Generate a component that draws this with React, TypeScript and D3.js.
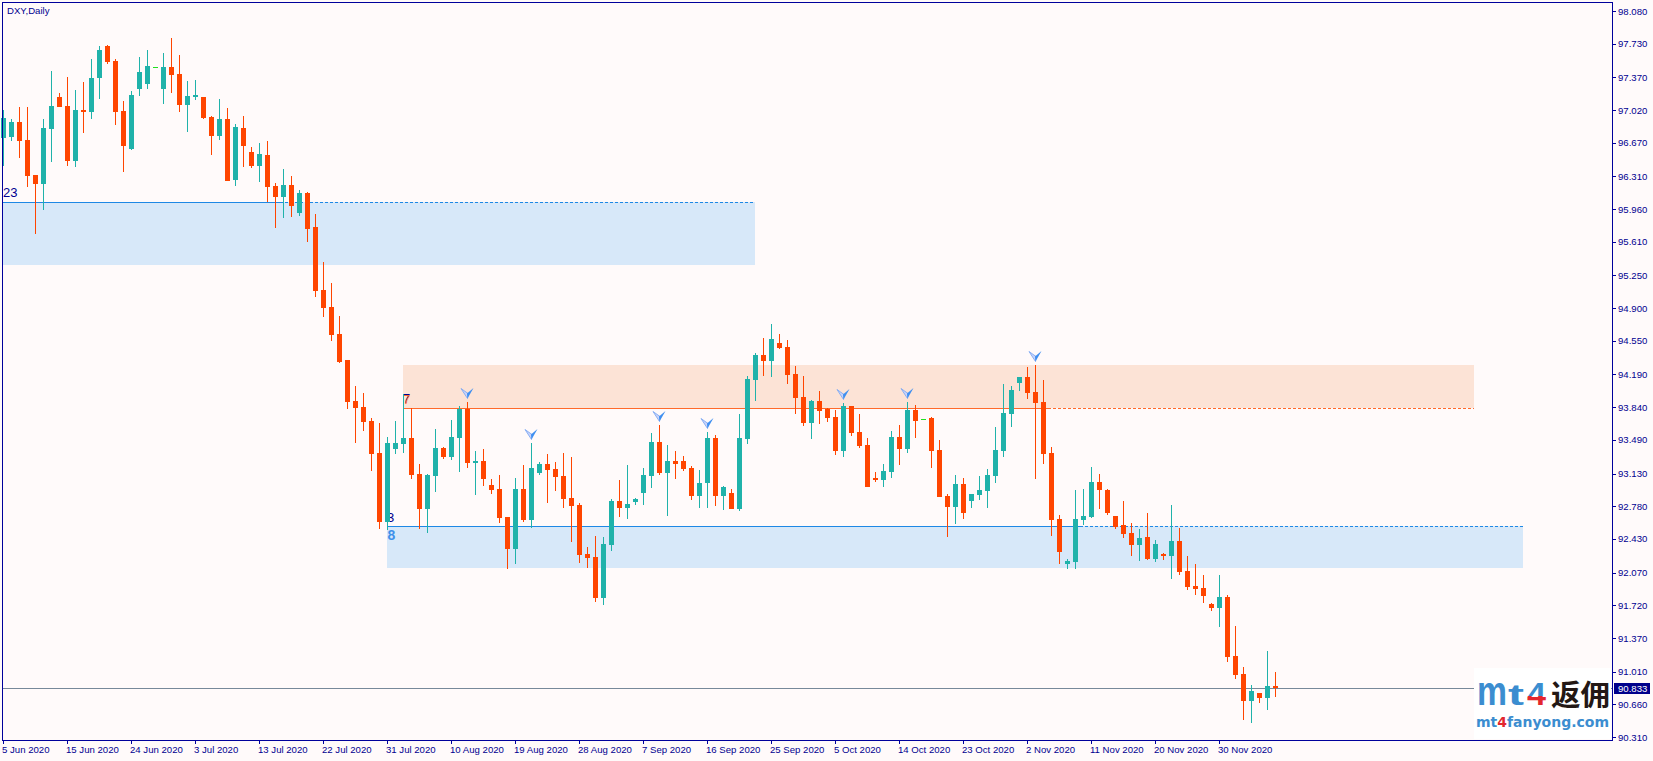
import { useEffect, useRef } from "react";
import * as d3 from "d3";

const width = 1653;
const height = 761;

const opens = [
  96.721,96.732,96.892,96.700,96.325,96.229,96.817,97.160,97.064,96.475,
  97.021,96.999,97.363,97.706,97.545,97.010,96.603,97.246,97.299,97.481,
  97.246,97.481,97.406,97.074,97.160,97.160,96.946,96.743,96.924,96.272,
  96.828,96.571,96.421,96.539,96.207,96.090,96.218,95.918,96.133,95.769,
  95.094,94.912,94.624,94.345,93.906,93.842,93.693,93.350,92.612,93.393,
  93.446,93.511,93.125,92.751,93.104,93.404,93.307,93.511,93.821,93.243,
  93.264,93.008,92.965,92.665,92.323,92.965,92.633,93.136,93.232,93.179,
  93.104,92.868,92.793,92.269,92.237,91.798,92.365,92.836,92.761,92.826,
  92.922,93.104,93.468,93.136,93.264,93.264,93.189,92.890,93.029,93.511,
  92.890,92.922,92.751,93.500,94.131,94.399,94.335,94.527,94.484,94.195,
  93.949,93.671,93.906,93.821,93.735,93.371,93.853,93.575,93.436,93.082,
  93.061,93.147,93.521,93.393,93.810,93.714,93.725,93.382,92.890,92.772,
  93.018,92.836,92.901,92.943,93.104,93.371,93.767,94.099,94.163,94.003,
  93.896,93.350,92.644,92.162,92.183,92.633,92.665,93.040,92.954,92.676,
  92.580,92.494,92.365,92.451,92.216,92.269,92.248,92.408,92.087,91.927,
  91.905,91.734,91.691,91.809,91.177,90.985,90.696,90.782,90.728,90.856,
];

const highs = [
  97.021,96.924,97.053,97.053,96.325,96.924,97.438,97.203,97.374,97.235,
  97.320,97.567,97.706,97.716,97.567,97.117,97.224,97.588,97.663,97.481,
  97.631,97.791,97.609,97.331,97.342,97.160,96.957,97.139,97.042,96.871,
  96.957,96.625,96.668,96.689,96.240,96.389,96.314,96.165,96.143,95.908,
  95.394,95.169,94.816,94.345,94.067,93.992,93.725,93.671,93.521,93.693,
  93.981,93.832,93.232,93.125,93.607,93.414,93.703,93.853,93.896,93.371,
  93.393,93.072,93.115,92.665,93.082,93.222,93.457,93.254,93.339,93.254,
  93.350,93.307,92.815,92.344,92.462,92.451,92.858,93.061,93.222,92.868,
  93.189,93.564,93.650,93.436,93.371,93.318,93.211,93.168,93.575,93.543,
  92.997,92.965,93.767,94.174,94.420,94.581,94.731,94.624,94.559,94.281,
  94.174,93.917,94.014,93.832,93.810,93.885,93.853,93.767,93.511,93.147,
  93.232,93.586,93.650,93.896,93.864,93.714,93.735,93.489,92.911,93.115,
  93.082,92.911,93.104,93.179,93.628,94.088,94.067,94.163,94.270,94.292,
  94.131,93.414,92.686,92.216,92.954,92.965,93.200,93.125,92.965,92.676,
  92.836,92.601,92.537,92.708,92.419,92.280,92.793,92.547,92.248,92.162,
  92.044,91.745,92.044,91.830,91.499,91.060,90.867,90.782,91.231,91.006,
];

const lows = [
  96.421,96.689,96.507,96.197,95.694,95.951,96.464,97.053,96.421,96.411,
  96.775,96.924,97.139,97.513,96.860,96.357,96.593,97.171,97.246,97.481,
  97.085,97.203,96.999,96.785,97.128,96.924,96.539,96.700,96.261,96.207,
  96.411,96.400,96.250,96.036,95.758,95.865,95.876,95.886,95.608,95.020,
  94.805,94.549,94.313,93.821,93.457,93.586,93.157,92.537,92.526,93.339,
  93.350,93.072,92.537,92.494,92.933,93.286,93.275,93.147,93.189,92.901,
  92.997,92.911,92.601,92.108,92.162,92.612,92.547,93.115,92.815,92.943,
  92.761,92.398,92.173,92.119,91.755,91.723,92.301,92.665,92.644,92.793,
  92.793,92.975,93.115,92.676,93.072,93.157,92.847,92.761,92.761,92.783,
  92.740,92.751,92.729,93.446,93.906,94.174,94.163,94.463,94.088,93.767,
  93.639,93.500,93.660,93.682,93.329,93.307,93.532,93.404,92.986,93.040,
  92.986,93.082,93.222,93.350,93.511,93.714,93.189,92.879,92.451,92.590,
  92.644,92.761,92.847,92.761,93.029,93.307,93.628,94.014,93.928,93.072,
  93.232,92.462,92.162,92.108,92.108,92.580,92.654,92.751,92.686,92.537,
  92.440,92.248,92.194,92.205,92.183,92.205,92.002,92.044,91.884,91.830,
  91.745,91.659,91.488,91.113,90.931,90.493,90.460,90.674,90.600,90.739,
];

const closes = [
  96.935,96.892,96.689,96.314,96.229,96.828,97.064,97.053,96.475,97.021,
  96.999,97.363,97.663,97.534,96.999,96.636,97.181,97.427,97.492,97.481,
  97.481,97.395,97.074,97.171,97.181,96.935,96.743,96.924,96.261,96.839,
  96.636,96.421,96.550,96.197,96.090,96.218,95.993,96.133,95.747,95.084,
  94.902,94.613,94.324,93.896,93.832,93.682,93.339,92.612,93.457,93.457,
  93.511,93.115,92.751,93.115,93.404,93.307,93.521,93.821,93.243,93.264,
  93.072,92.954,92.654,92.323,92.965,92.633,93.189,93.232,93.168,93.093,
  92.858,92.783,92.258,92.226,91.798,92.376,92.836,92.761,92.804,92.858,
  93.115,93.468,93.136,93.264,93.232,93.179,92.890,93.029,93.511,92.890,
  92.986,92.751,93.511,94.142,94.399,94.335,94.570,94.474,94.185,93.939,
  93.671,93.906,93.800,93.725,93.371,93.853,93.564,93.425,92.986,93.061,
  93.157,93.521,93.393,93.810,93.693,93.714,93.371,92.879,92.772,93.018,
  92.708,92.911,92.954,93.115,93.382,93.778,94.024,94.163,93.992,93.885,
  93.339,92.633,92.290,92.194,92.644,92.676,93.040,92.954,92.708,92.558,
  92.483,92.365,92.440,92.216,92.376,92.248,92.408,92.076,91.916,91.895,
  91.820,91.691,91.809,91.167,90.974,90.696,90.803,90.728,90.856,90.833,
];

const priceTicks = [
  98.08, 97.73, 97.37, 97.02, 96.67, 96.31, 95.96, 95.61, 95.25, 94.9, 94.55, 94.19,
  93.84, 93.49, 93.13, 92.78, 92.43, 92.07, 91.72, 91.37, 91.01, 90.66, 90.31,
];

const dateLabels = [
  "5 Jun 2020", "15 Jun 2020", "24 Jun 2020", "3 Jul 2020", "13 Jul 2020", "22 Jul 2020",
  "31 Jul 2020", "10 Aug 2020", "19 Aug 2020", "28 Aug 2020", "7 Sep 2020", "16 Sep 2020",
  "25 Sep 2020", "5 Oct 2020", "14 Oct 2020", "23 Oct 2020", "2 Nov 2020", "11 Nov 2020",
  "20 Nov 2020", "30 Nov 2020",
];
const dateBars = dateLabels.map((_, i) => i * 8);

// supply / demand zones: bar where they start, end, where the border turns dashed
const zoneTops = [96.036, 94.292, 92.569];
const zoneBottoms = [95.362, 93.832, 92.12];
const zoneStartBars = [-0.5, 49.94, 47.94];
const zoneEndBars = [93.98, 183.86, 189.9];
const zoneSplitBars = [34.5, 130.5, 134.5];
const zoneFills = ["#d7e8f9", "#fce3d6", "#d7e8f9"];
const zoneLines = ["#1e88e5", "#ff6a2b", "#1e88e5"];
const zoneBorderPrices = [96.036, 93.832, 92.569];

const arrowBars = [58, 66, 82, 88, 105, 113, 129];
const lastPrice = 90.833;

const axisBlue = "#00009c";
const bullColor = "#20b2aa";
const bearColor = "#ff4500";
const dojiColor = "#1fe01f";
const uiFont = "'Liberation Sans', Arial, sans-serif";
const fontSize = "9.6px";

export default function App() {
  const svgRef = useRef<SVGSVGElement>(null);

  useEffect(() => {
    if (!svgRef.current) return;
    const svg = d3.select(svgRef.current);
    svg.selectAll("*").remove();

    const left = 2;
    const top = 2;
    const right = 1612;
    const bottom = 740;

    const x = d3.scaleLinear().domain([0, 159]).range([3.5, 3.5 + 8 * 159]);
    const y = d3.scaleLinear().domain([90.31, 98.08]).range([737, 11]);
    const py = (p: number) => Math.round(y(p));

    svg.append("rect").attr("width", width).attr("height", height).attr("fill", "#fffafa");

    const plot = svg.append("g").attr("shape-rendering", "crispEdges");

    // zones
    zoneTops.forEach((t, i) => {
      const x0 = Math.round(Math.max(x(zoneStartBars[i]), left));
      const x1 = Math.round(x(zoneEndBars[i]));
      const ly = py(zoneBorderPrices[i]) + 0.5;
      plot.append("rect")
        .attr("x", x0)
        .attr("y", py(t))
        .attr("width", x1 - x0)
        .attr("height", py(zoneBottoms[i]) - py(t))
        .attr("fill", zoneFills[i]);
      plot.append("line")
        .attr("x1", x0).attr("x2", x(zoneSplitBars[i]))
        .attr("y1", ly).attr("y2", ly)
        .attr("stroke", zoneLines[i]);
      plot.append("line")
        .attr("x1", x(zoneSplitBars[i])).attr("x2", x1)
        .attr("y1", ly).attr("y2", ly)
        .attr("stroke", zoneLines[i])
        .attr("stroke-dasharray", "3 2");
    });

    // zone labels
    const zoneLabel = (txt: string, lx: number, ly: number, fill: string, size = 13, weight = "normal") =>
      svg.append("text")
        .attr("x", lx)
        .attr("y", ly)
        .attr("font-family", uiFont)
        .attr("font-size", `${size}px`)
        .attr("font-weight", weight)
        .attr("fill", fill)
        .text(txt);
    zoneLabel("23", 3, 197, "#000090");
    zoneLabel("3", 387, 522, "#000090");
    zoneLabel("8", 387.5, 540, "#3f90ea", 14, "bold");
    zoneLabel("7", 403, 403, "#000090");
    zoneLabel("7", 403, 404, "#ff6a2b");

    // last price line
    plot.append("line")
      .attr("x1", left).attr("x2", right)
      .attr("y1", py(lastPrice) + 0.5).attr("y2", py(lastPrice) + 0.5)
      .attr("stroke", "#778899");

    // candles
    const bars = d3.range(opens.length);
    const candles = svg.append("g").attr("shape-rendering", "crispEdges");
    const color = (i: number) =>
      closes[i] > opens[i] ? bullColor : closes[i] < opens[i] ? bearColor : dojiColor;

    candles.selectAll("rect.wick")
      .data(bars.filter((i) => opens[i] !== closes[i]))
      .join("rect")
      .attr("class", "wick")
      .attr("x", (i) => x(i) - 0.5)
      .attr("y", (i) => py(highs[i]))
      .attr("width", 1)
      .attr("height", (i) => py(lows[i]) - py(highs[i]))
      .attr("fill", color);

    candles.selectAll("rect.body")
      .data(bars)
      .join("rect")
      .attr("class", "body")
      .attr("x", (i) => x(i) - 2.5)
      .attr("y", (i) => py(Math.max(opens[i], closes[i])))
      .attr("width", 5)
      .attr("height", (i) => Math.max(1, py(Math.min(opens[i], closes[i])) - py(Math.max(opens[i], closes[i]))))
      .attr("fill", color);

    // arrows above swing highs
    const arrows = svg.append("g");
    arrowBars.forEach((b) => {
      const g = arrows.append("g").attr("transform", `translate(${x(b)},${py(highs[b]) - 3.5})`);
      g.append("path")
        .attr("d", "M-6.5,-10 L0,0 L0.5,-5 Z")
        .attr("fill", "#c9d4fb")
        .attr("stroke", "#7fa9f3")
        .attr("stroke-width", 0.9);
      g.append("path").attr("d", "M6,-10.5 L0,0 L-0.5,-5 Z").attr("fill", "#3f8ff0");
    });

    // axes
    const yAxis = svg.append("g")
      .attr("transform", `translate(${right},0)`)
      .call(d3.axisRight(y).tickValues(priceTicks).tickFormat(d3.format(".3f")).tickSize(4).tickPadding(2));
    const xAxis = svg.append("g")
      .attr("transform", `translate(0,${bottom})`)
      .call(
        d3.axisBottom(x)
          .tickValues(dateBars)
          .tickFormat((_, i) => dateLabels[i])
          .tickSize(4)
          .offset(0)
      );
    yAxis.select(".domain").remove();
    xAxis.select(".domain").remove();
    xAxis.selectAll("text").attr("text-anchor", "start").attr("x", -1.5).attr("y", 6).attr("dy", ".71em");
    svg.selectAll(".tick line").attr("stroke", axisBlue).attr("shape-rendering", "crispEdges");
    svg.selectAll(".tick text").attr("fill", "#000090").attr("font-family", uiFont).attr("font-size", fontSize);

    // frame
    svg.append("rect")
      .attr("x", left + 0.5).attr("y", top + 0.5)
      .attr("width", right - left).attr("height", bottom - top)
      .attr("fill", "none").attr("stroke", axisBlue).attr("shape-rendering", "crispEdges");

    svg.append("text")
      .attr("x", 7).attr("y", 14)
      .attr("font-family", uiFont).attr("font-size", fontSize).attr("fill", "#000090")
      .text("DXY,Daily");

    // last price tag
    svg.append("rect").attr("x", 1614).attr("y", py(lastPrice) - 5).attr("width", 36).attr("height", 11).attr("fill", "#00008b");
    svg.append("text")
      .attr("x", 1618).attr("y", py(lastPrice) + 3.5)
      .attr("font-family", uiFont).attr("font-size", fontSize).attr("fill", "#fff")
      .text(d3.format(".3f")(lastPrice));

    // watermark
    const mark = svg.append("g");
    mark.append("rect").attr("x", 1474).attr("y", 668).attr("width", 137).attr("height", 71).attr("fill", "#fff");
    const logoBlue = "#3b8dd0";
    const logoRed = "#e3262e";
    const logoFont = "'Liberation Sans', sans-serif";
    const four = svg.append("defs").append("linearGradient")
      .attr("id", "four-fill")
      .attr("gradientUnits", "userSpaceOnUse")
      .attr("x1", 0).attr("x2", 0).attr("y1", 683).attr("y2", 706);
    four.append("stop").attr("offset", "58%").attr("stop-color", logoBlue);
    four.append("stop").attr("offset", "58%").attr("stop-color", logoRed);
    const logo = (txt: string, lx: number, size: number, len: number, fill: string, family = logoFont, by = 705) =>
      mark.append("text")
        .attr("x", lx).attr("y", by)
        .attr("font-family", family).attr("font-weight", "bold")
        .attr("font-size", `${size}px`)
        .attr("textLength", len).attr("lengthAdjust", "spacingAndGlyphs")
        .attr("fill", fill)
        .text(txt);
    logo("m", 1477, 40, 30, logoBlue);
    logo("t", 1508, 30, 16, logoBlue);
    logo("4", 1527, 31, 19, "url(#four-fill)");
    logo("返佣", 1551, 29, 59, "#231815", "'Noto Sans CJK SC'", 706);
    const url = mark.append("text")
      .attr("x", 1476).attr("y", 727)
      .attr("font-family", "'DejaVu Sans', sans-serif").attr("font-weight", "bold")
      .attr("font-size", "14.5px")
      .attr("textLength", 133).attr("lengthAdjust", "spacingAndGlyphs")
      .attr("fill", logoBlue);
    url.append("tspan").text("mt");
    url.append("tspan").attr("fill", logoRed).text("4");
    url.append("tspan").text("fanyong.com");
  }, []);

  return (
    <svg
      ref={svgRef}
      width={width}
      height={height}
      style={{ position: "absolute", left: 0, top: 0 }}
    />
  );
}
